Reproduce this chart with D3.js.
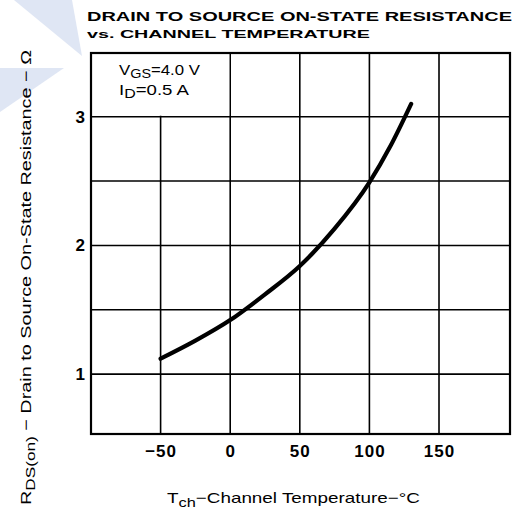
<!DOCTYPE html>
<html>
<head>
<meta charset="utf-8">
<script src="https://cdn.jsdelivr.net/npm/d3@7"></script>
<style>
  body { margin: 0; background: #fff; }
  text { font-family: "Liberation Sans", Arial, sans-serif; fill: #000; }
</style>
</head>
<body>
<div id="chart"></div>
<script>
// curve
var temps = [-50, -25, 0, 25, 50, 75, 100, 115, 130]
var resistance = [1.12, 1.26, 1.42, 1.62, 1.84, 2.13, 2.49, 2.77, 3.10]

var xTicks = [-50, 0, 50, 100, 150]
var yTicks = [1, 2, 3]
var xGrid = [-50, 0, 50, 100, 150]
var yGrid = [1, 1.5, 2, 2.5, 3]

var titleLines = ["DRAIN TO SOURCE ON-STATE RESISTANCE", "vs. CHANNEL TEMPERATURE"]

var width = 521, height = 510

var svg = d3.select("#chart")
  .append("svg")
  .attr("width", width)
  .attr("height", height)

// faint watermark in the corner
svg.append("polygon")
  .attr("points", "14,0 72,0 82,56")
  .attr("fill", "#dfe6f4")
svg.append("polygon")
  .attr("points", "0,68 64,68 0,112")
  .attr("fill", "#dfe6f4")

var xPositionScale = d3.scaleLinear().domain([-100, 201]).range([91, 510])
var yPositionScale = d3.scaleLinear().domain([0.535, 3.495]).range([434, 53])

var plot = svg.append("g")

// grid
plot.selectAll(".vgrid")
  .data(xGrid)
  .enter().append("line")
  .attr("class", "vgrid")
  .attr("x1", function(d) { return xPositionScale(d) })
  .attr("x2", function(d) { return xPositionScale(d) })
  .attr("y1", yPositionScale(3.495))
  .attr("y2", yPositionScale(0.535))
  .attr("stroke", "#000")
  .attr("stroke-width", 1.6)

plot.selectAll(".hgrid")
  .data(yGrid)
  .enter().append("line")
  .attr("class", "hgrid")
  .attr("x1", xPositionScale(-100))
  .attr("x2", xPositionScale(201))
  .attr("y1", function(d) { return yPositionScale(d) })
  .attr("y2", function(d) { return yPositionScale(d) })
  .attr("stroke", "#000")
  .attr("stroke-width", 1.6)

// legend box sits over the top-left cell
plot.append("rect")
  .attr("x", xPositionScale(-100) + 1)
  .attr("y", yPositionScale(3.495) + 1)
  .attr("width", xPositionScale(0) - xPositionScale(-100) - 2)
  .attr("height", yPositionScale(3) - yPositionScale(3.495) - 2)
  .attr("fill", "#fff")

// frame
plot.append("rect")
  .attr("x", xPositionScale(-100))
  .attr("y", yPositionScale(3.495))
  .attr("width", xPositionScale(201) - xPositionScale(-100))
  .attr("height", yPositionScale(0.535) - yPositionScale(3.495))
  .attr("fill", "none")
  .attr("stroke", "#000")
  .attr("stroke-width", 2.2)

var line = d3.line()
  .x(function(d, i) { return xPositionScale(temps[i]) })
  .y(function(d) { return yPositionScale(d) })
  .curve(d3.curveMonotoneX)

plot.append("path")
  .datum(resistance)
  .attr("d", line)
  .attr("fill", "none")
  .attr("stroke", "#000")
  .attr("stroke-width", 4.2)
  .attr("stroke-linecap", "round")

// tick labels
var xAxis = d3.axisBottom(xPositionScale)
  .tickValues(xTicks)
  .tickSize(0)
  .tickPadding(0)
  .tickFormat(function(d) { return d < 0 ? "\u2212" + Math.abs(d) : d })

svg.append("g")
  .attr("class", "axis x-axis")
  .attr("transform", "translate(0,445)")
  .call(xAxis)
  .call(function(g) { g.select(".domain").remove() })
  .selectAll("text")
  .attr("dy", "0.71em")
  .style("font-size", "17px")
  .style("letter-spacing", "1px")
  .style("font-weight", "bold")
  .style("font-family", "'Liberation Sans', Arial, sans-serif")

var yAxis = d3.axisLeft(yPositionScale)
  .tickValues(yTicks)
  .tickSize(0)
  .tickPadding(6)
  .tickFormat(d3.format("d"))

svg.append("g")
  .attr("class", "axis y-axis")
  .attr("transform", "translate(91,0)")
  .call(yAxis)
  .call(function(g) { g.select(".domain").remove() })
  .selectAll("text")
  .style("font-size", "17px")
  .style("font-weight", "bold")
  .style("font-family", "'Liberation Sans', Arial, sans-serif")

// title
svg.append("text")
  .attr("x", 87)
  .attr("y", 21)
  .attr("textLength", 425)
  .attr("lengthAdjust", "spacingAndGlyphs")
  .style("font-size", "12px")
  .style("font-weight", "bold")
  .text(titleLines[0])

svg.append("text")
  .attr("x", 87)
  .attr("y", 37.5)
  .attr("textLength", 283)
  .attr("lengthAdjust", "spacingAndGlyphs")
  .style("font-size", "11px")
  .style("font-weight", "bold")
  .text(titleLines[1])

// legend
var leg1 = svg.append("text")
  .attr("x", 119)
  .attr("y", 75)
  .attr("textLength", 81)
  .attr("lengthAdjust", "spacingAndGlyphs")
  .style("font-size", "14px")
leg1.append("tspan").text("V")
leg1.append("tspan").attr("dy", 3).style("font-size", "12px").text("GS")
leg1.append("tspan").attr("dy", -3).text("=4.0 V")

var leg2 = svg.append("text")
  .attr("x", 119)
  .attr("y", 95)
  .attr("textLength", 70)
  .attr("lengthAdjust", "spacingAndGlyphs")
  .style("font-size", "14px")
leg2.append("tspan").text("I")
leg2.append("tspan").attr("dy", 3).style("font-size", "12px").text("D")
leg2.append("tspan").attr("dy", -3).text("=0.5 A")

// axis titles
var xLabel = svg.append("text")
  .attr("x", 167)
  .attr("y", 503)
  .attr("textLength", 253)
  .attr("lengthAdjust", "spacingAndGlyphs")
  .style("font-size", "15px")
xLabel.append("tspan").text("T")
xLabel.append("tspan").attr("dy", 4).style("font-size", "13px").text("ch")
xLabel.append("tspan").attr("dy", -4).text("\u2212Channel Temperature\u2212\u00b0C")

var yLabel = svg.append("text")
  .attr("transform", "translate(31,505) rotate(-90)")
  .attr("x", 0)
  .attr("y", 0)
  .attr("textLength", 455)
  .attr("lengthAdjust", "spacingAndGlyphs")
  .style("font-size", "15px")
yLabel.append("tspan").text("R")
yLabel.append("tspan").attr("dy", 4).style("font-size", "13px").text("DS(on)")
yLabel.append("tspan").attr("dy", -4).text(" \u2212 Drain to Source On-State Resistance \u2212 \u03a9")
</script>
</body>
</html>
